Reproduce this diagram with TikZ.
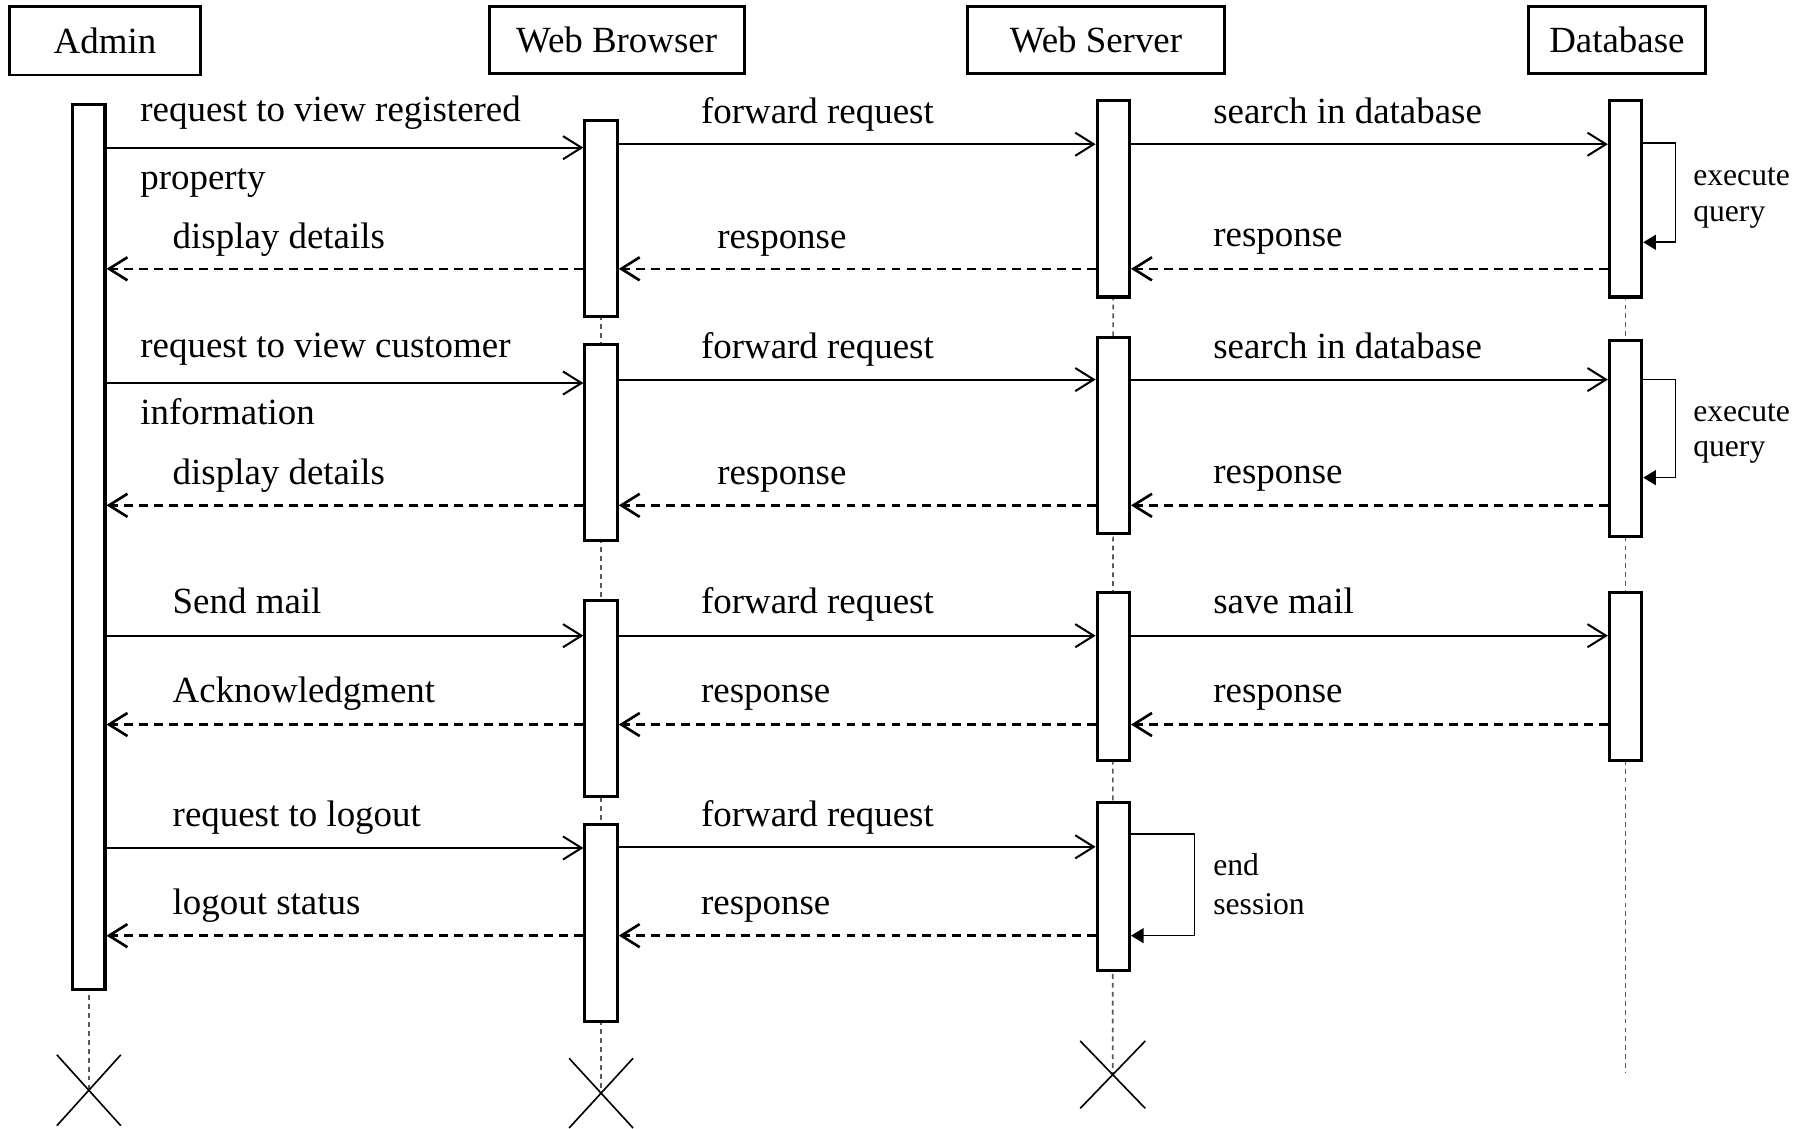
\documentclass[tikz,border=0pt]{standalone}
\usepackage{fontspec}
\setmainfont{Liberation Serif}
\usetikzlibrary{arrows.meta,shapes.misc,backgrounds}
\tikzset{
  obj/.style={draw, line width=0.7pt, minimum height=0.58cm, inner sep=0pt, font=\fontsize{9.1}{11}\selectfont},
  act/.style={draw, fill=white, line width=0.75pt, minimum width=0.28cm, anchor=north, inner sep=0pt},
  msg/.style={line width=0.5pt, -{Straight Barb[length=1.6mm,width=2mm]}},
  ret/.style={msg, line width=0.65pt, dash pattern=on 2.2pt off 1.5pt},
  selfmsg/.style={line width=0.4pt, -{Triangle[length=1.1mm,width=1.3mm]}},
  lbl/.style={anchor=base west, inner sep=0pt, font=\fontsize{9.1}{11}\selectfont},
  note/.style={anchor=base west, inner sep=0pt, font=\fontsize{7.8}{9}\selectfont},
  life/.style={gray!70!black, line width=0.4pt, dash pattern=on 1.2pt off 1pt},
  kill/.style={draw, cross out, line width=0.4pt, inner sep=0pt}
}
\begin{document}
\begin{tikzpicture}[x=0.01cm,y=-0.01cm]
	\useasboundingbox (0,0) rectangle (1568,978);
	% objects
	\node[obj, minimum width=1.66cm, minimum height=0.59cm] (admin) at (91,35.5) {Admin};
	\node[obj, minimum width=2.21cm] (browser) at (534.5,34.5) {Web Browser};
	\node[obj, minimum width=2.22cm] (server) at (950,34.5) {Web Server};
	\node[obj, minimum width=1.53cm] (db) at (1401.5,34.5) {Database};

	% activations
	\node[act, minimum height=7.67cm] (a1) at (77,89) {};
	\node[act, minimum height=1.70cm] (wb1) at (521,103) {};
	\node[act, minimum height=1.70cm] (wb2) at (521,297) {};
	\node[act, minimum height=1.70cm] (wb3) at (521,519) {};
	\node[act, minimum height=1.71cm] (wb4) at (521,713) {};
	\node[act, minimum height=1.70cm] (ws1) at (965,86) {};
	\node[act, minimum height=1.70cm] (ws2) at (965,291) {};
	\node[act, minimum height=1.46cm] (ws3) at (965,512) {};
	\node[act, minimum height=1.46cm] (ws4) at (965,694) {};
	\node[act, minimum height=1.70cm] (db1) at (1409,86) {};
	\node[act, minimum height=1.70cm] (db2) at (1409,294) {};
	\node[act, minimum height=1.46cm] (db3) at (1409,512) {};

	% destruction
	\node[kill, minimum width=0.54cm, minimum height=0.60cm] (ax) at (77,945) {};
	\node[kill, minimum width=0.54cm, minimum height=0.59cm] (bx) at (521,947.5) {};
	\node[kill, minimum width=0.55cm, minimum height=0.57cm] (sx) at (964.5,931.5) {};
	\coordinate (dbend) at (1409,930);

	% lifelines
	\begin{scope}[on background layer]
		\draw[life] (a1.north) -- (ax.center);
		\draw[life] (wb1.north) -- (bx.center);
		\draw[life] (ws1.north) -- (sx.center);
		\draw[life] (db1.north) -- (dbend);
	\end{scope}

	% view registered property
	\draw[msg] (a1.east |- 0,128) -- (wb1.west |- 0,128);
	\draw[msg] (wb1.east |- 0,125) -- (ws1.west |- 0,125);
	\draw[msg] (ws1.east |- 0,125) -- (db1.west |- 0,125);
	\draw[selfmsg] (db1.east |- 0,124) -- ++(28,0) |- (db1.east |- 0,210);
	\draw[ret] (db1.west |- 0,233) -- (ws1.east |- 0,233);
	\draw[ret] (ws1.west |- 0,233) -- (wb1.east |- 0,233);
	\draw[ret] (wb1.west |- 0,233) -- (a1.east |- 0,233);
	\node[lbl] (t1) at (121,105) {request to view registered};
	\node[lbl] (t2) at (121,164) {property};
	\node[lbl] (t3) at (149,215) {display details};
	\node[lbl] (t4) at (607,107) {forward request};
	\node[lbl] (t5) at (1051,107) {search in database};
	\node[lbl] (t6) at (621,215) {response};
	\node[lbl] (t7) at (1051,214) {response};
	\node[note] (t8) at (1467,161) {execute};
	\node[note] (t9) at (1467,192) {query};

	% view customer information
	\draw[msg] (a1.east |- 0,332) -- (wb2.west |- 0,332);
	\draw[msg] (wb2.east |- 0,329) -- (ws2.west |- 0,329);
	\draw[msg] (ws2.east |- 0,329) -- (db2.west |- 0,329);
	\draw[selfmsg] (db2.east |- 0,329) -- ++(28,0) |- (db2.east |- 0,414);
	\draw[ret] (db2.west |- 0,438) -- (ws2.east |- 0,438);
	\draw[ret] (ws2.west |- 0,438) -- (wb2.east |- 0,438);
	\draw[ret] (wb2.west |- 0,438) -- (a1.east |- 0,438);
	\node[lbl] (u1) at (121,310) {request to view customer};
	\node[lbl] (u2) at (121,368) {information};
	\node[lbl] (u3) at (149,420) {display details};
	\node[lbl] (u4) at (607,311) {forward request};
	\node[lbl] (u5) at (1051,311) {search in database};
	\node[lbl] (u6) at (621,420) {response};
	\node[lbl] (u7) at (1051,419) {response};
	\node[note] (u8) at (1467,365) {execute};
	\node[note] (u9) at (1467,396) {query};

	% send mail
	\draw[msg] (a1.east |- 0,551) -- (wb3.west |- 0,551);
	\draw[msg] (wb3.east |- 0,551) -- (ws3.west |- 0,551);
	\draw[msg] (ws3.east |- 0,551) -- (db3.west |- 0,551);
	\draw[ret] (db3.west |- 0,628) -- (ws3.east |- 0,628);
	\draw[ret] (ws3.west |- 0,628) -- (wb3.east |- 0,628);
	\draw[ret] (wb3.west |- 0,628) -- (a1.east |- 0,628);
	\node[lbl] (v1) at (149,532) {Send mail};
	\node[lbl] (v2) at (149,609) {Acknowledgment};
	\node[lbl] (v3) at (607,532) {forward request};
	\node[lbl] (v4) at (1051,532) {save mail};
	\node[lbl] (v5) at (607,609) {response};
	\node[lbl] (v6) at (1051,609) {response};

	% logout
	\draw[msg] (a1.east |- 0,735) -- (wb4.west |- 0,735);
	\draw[msg] (wb4.east |- 0,734) -- (ws4.west |- 0,734);
	\draw[selfmsg] (ws4.east |- 0,723) -- ++(55,0) |- (ws4.east |- 0,811);
	\draw[ret] (ws4.west |- 0,811) -- (wb4.east |- 0,811);
	\draw[ret] (wb4.west |- 0,811) -- (a1.east |- 0,811);
	\node[lbl] (w1) at (149,716) {request to logout};
	\node[lbl] (w2) at (149,793) {logout status};
	\node[lbl] (w3) at (607,716) {forward request};
	\node[lbl] (w4) at (607,793) {response};
	\node[note] (w5) at (1051,759) {end};
	\node[note] (w6) at (1051,793) {session};
\end{tikzpicture}
\end{document}
